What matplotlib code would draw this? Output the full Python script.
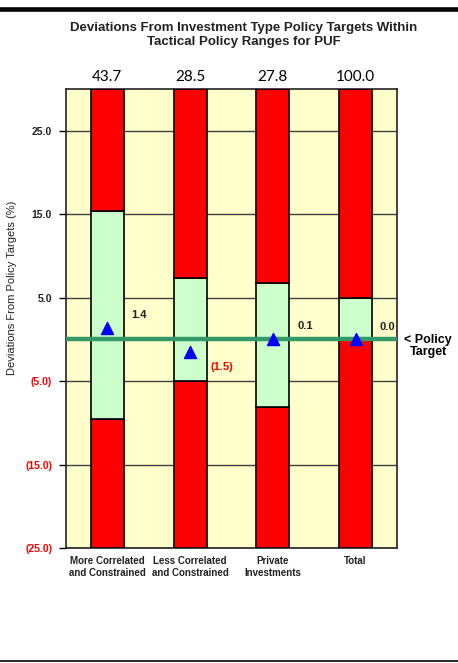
import numpy as np
import matplotlib
matplotlib.use("Agg")
import matplotlib.pyplot as plt
from matplotlib.lines import Line2D

# Data
categories = ["More Correlated\nand Constrained", "Less Correlated\nand Constrained",
              "Private\nInvestments", "Total"]
weights = [43.7, 28.5, 27.8, 100.0]
range_upper = [15.4, 7.4, 6.8, 5.0]
range_lower = [-9.6, -5.0, -8.1, 0.0]
actual_dev = [1.4, -1.5, 0.1, 0.0]
yticks = [25, 15, 5, -5, -15, -25]
ymin, ymax = -25, 30

plt.rcParams["font.family"] = ["Liberation Sans", "DejaVu Sans"]

def fmt(v):
    return f"({abs(v):.1f})" if v < 0 else f"{v:.1f}"

fig = plt.figure(figsize=(4.58, 6.63), dpi=100)
ax = fig.add_axes([66/458, 1-548/663, 331/458, 459/663])
ax.set_facecolor("#FFFFCC")

x = np.arange(len(categories))
w = 0.4
upper = np.array(range_upper)
lower = np.array(range_lower)

# bottom red, green band, top red
ax.bar(x, lower - ymin, w, bottom=ymin, color="#FF0000", edgecolor="black", lw=1.2, zorder=3)
ax.bar(x, upper - lower, w, bottom=lower, color="#CCFFCC", edgecolor="black", lw=1.2, zorder=3)
ax.bar(x, ymax - upper, w, bottom=upper, color="#FF0000", edgecolor="black", lw=1.2, zorder=3)

ax.axhline(0, color="#339966", lw=3.2, zorder=4)
ax.scatter(x, actual_dev, marker="^", s=75, color="#0000FF", zorder=5)

for xi, v in zip(x, actual_dev):
    off = 9 if v >= 0 else -11
    ax.annotate(fmt(v), (xi, v), xytext=(23, off), textcoords="offset points",
                ha="center", va="center", fontsize=8, fontweight="bold",
                color="#222222" if v >= 0 else "#FF0000")

for xi, wt in zip(x, weights):
    ax.text(xi, ymax + 0.6, f"{wt:.1f}", ha="center", va="bottom",
            fontsize=11, family=["Lato", "DejaVu Sans"])

ax.set_xlim(-0.5, len(categories) - 0.5)
ax.set_ylim(ymin, ymax)
ax.set_yticks(yticks)
ax.set_yticklabels([fmt(t) for t in yticks], fontsize=7.5, fontweight="bold")
for lab, t in zip(ax.get_yticklabels(), yticks):
    lab.set_color("#FF0000" if t < 0 else "#222222")
ax.yaxis.grid(True, color="#404040", lw=1.0, zorder=1)
ax.set_axisbelow(True)
ax.set_xticks(x)
ax.set_xticklabels(categories, fontsize=7, fontweight="bold", linespacing=1.15,
                   color="#222222")
ax.tick_params(axis="x", length=0, pad=6)
ax.tick_params(axis="y", length=5, width=1, pad=5)
for s in ax.spines.values():
    s.set_linewidth(1.2)
    s.set_color("#222222")

fig.text(12/458, 1-288/663, "Deviations From Policy Targets (%)", rotation=90,
         ha="center", va="center", fontsize=8, color="#222222")
fig.text(244/458, 1-35/663, "Deviations From Investment Type Policy Targets Within\n"
         "Tactical Policy Ranges for PUF", ha="center", va="center",
         fontsize=9.5, fontweight="bold", linespacing=1.3, color="#222222")
fig.text(428/458, 1-346/663, "< Policy\nTarget", ha="center", va="center",
         fontsize=9, fontweight="bold", linespacing=1.05)

fig.add_artist(Line2D([0, 1], [1-9/663, 1-9/663], color="black", lw=3.3))
fig.add_artist(Line2D([0, 1], [1-661/663, 1-661/663], color="black", lw=1.2))

fig.savefig("out.png", dpi=100)
